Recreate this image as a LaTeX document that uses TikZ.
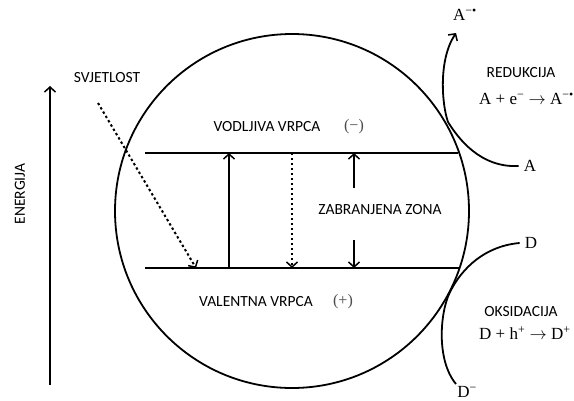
\documentclass[tikz,border=0pt]{standalone}
\usepackage{fontspec}
\setmainfont{Liberation Serif}
\setsansfont{Carlito}
\usetikzlibrary{arrows.meta}
\tikzset{
  lbl/.style={font=\sffamily\fontsize{15.5}{18}\selectfont, inner sep=0pt},
  chem/.style={font=\rmfamily\fontsize{17}{20}\selectfont, inner sep=0pt},
  spec/.style={chem, inner xsep=5pt},
  sgn/.style={chem, font=\rmfamily\fontsize{16}{19}\selectfont, text=black!70},
  band/.style={line width=1.8pt},
  flow/.style={-{Straight Barb[length=5pt,width=11pt,line width=1.5pt]}, line width=1.6pt},
  dflow/.style={flow, line width=2pt, dash pattern=on 2.4pt off 2.6pt},
  rxn/.style={line width=1.8pt}
}

\begin{document}
\begin{tikzpicture}[x=1pt,y=-1pt]
\useasboundingbox (0,0) rectangle (574,400);
% semiconductor particle
\node[circle, draw, line width=1.8pt, minimum size=354pt, inner sep=0pt] (cell) at (292,211) {};

% bands
\coordinate (cbL) at (145,153); \coordinate (cbR) at (458,153);
\coordinate (vbL) at (145,268); \coordinate (vbR) at (459,268);
\draw[band] (cbL) -- (cbR);
\draw[band] (vbL) -- (vbR);

\node[lbl] (cbt) at (267,127) {VODLJIVA VRPCA};
\node[sgn] (cbs) at (354,127) {(−)};
\node[lbl] (vbt) at (256,302) {VALENTNA VRPCA};
\node[sgn] (vbs) at (343,302) {(+)};
\node[lbl] (gap) at (380,210) {ZABRANJENA ZONA};

% transitions
\coordinate (exB) at (229,268); \coordinate (exT) at (229,153);
\coordinate (reT) at (292,153); \coordinate (reB) at (292,268);
\coordinate (gU0) at (354,188); \coordinate (gU1) at (354,153);
\coordinate (gD0) at (354,240); \coordinate (gD1) at (354,268);
\draw[flow] (exB) -- (exT);
\draw[dflow] (reT) -- (reB);
\draw[flow] (gU0) -- (gU1);
\draw[flow] (gD0) -- (gD1);

% light
\node[lbl] (light) at (107,78) {SVJETLOST};
\coordinate (lt0) at (98,103); \coordinate (lt1) at (196,268);
\draw[dflow] (lt0) -- (lt1);

% energy axis
\coordinate (en0) at (50,385); \coordinate (en1) at (50,86);
\draw[flow] (en0) -- (en1);
\node[lbl, rotate=90] (enl) at (20,194) {ENERGIJA};

% reduction
\node[spec] (A) at (530,166) {A};
\node[chem] (Ar) at (465,15) {A\textsuperscript{−•}};
\node[lbl] (red) at (521,73) {REDUKCIJA};
\node[chem, anchor=west] (redeq) at (479,99) {A + e\textsuperscript{−} $\rightarrow$ A\textsuperscript{−•}};
\coordinate (Akiss) at (448,122);
\coordinate (Atip) at (456,33);
\draw[rxn, -{Straight Barb[length=5pt,width=11pt,line width=1.5pt]}]
  (A.west) .. controls (480,168) and (458,138) .. (Akiss)
  .. controls (442,105) and (438,60) .. (Atip);

% oxidation
\node[spec] (D) at (531,243) {D};
\node[chem] (Dr) at (467,392) {D\textsuperscript{−}};
\node[lbl] (ox) at (521,312) {OKSIDACIJA};
\node[chem, anchor=west] (oxeq) at (479,333) {D + h\textsuperscript{+} $\rightarrow$ D\textsuperscript{+}};
\coordinate (Dkiss) at (450,292);
\coordinate (Dend) at (456,384);
\draw[rxn] (D.west) .. controls (485,246) and (462,268) .. (Dkiss)
  .. controls (440,312) and (436,360) .. (Dend);
\end{tikzpicture}
\end{document}
